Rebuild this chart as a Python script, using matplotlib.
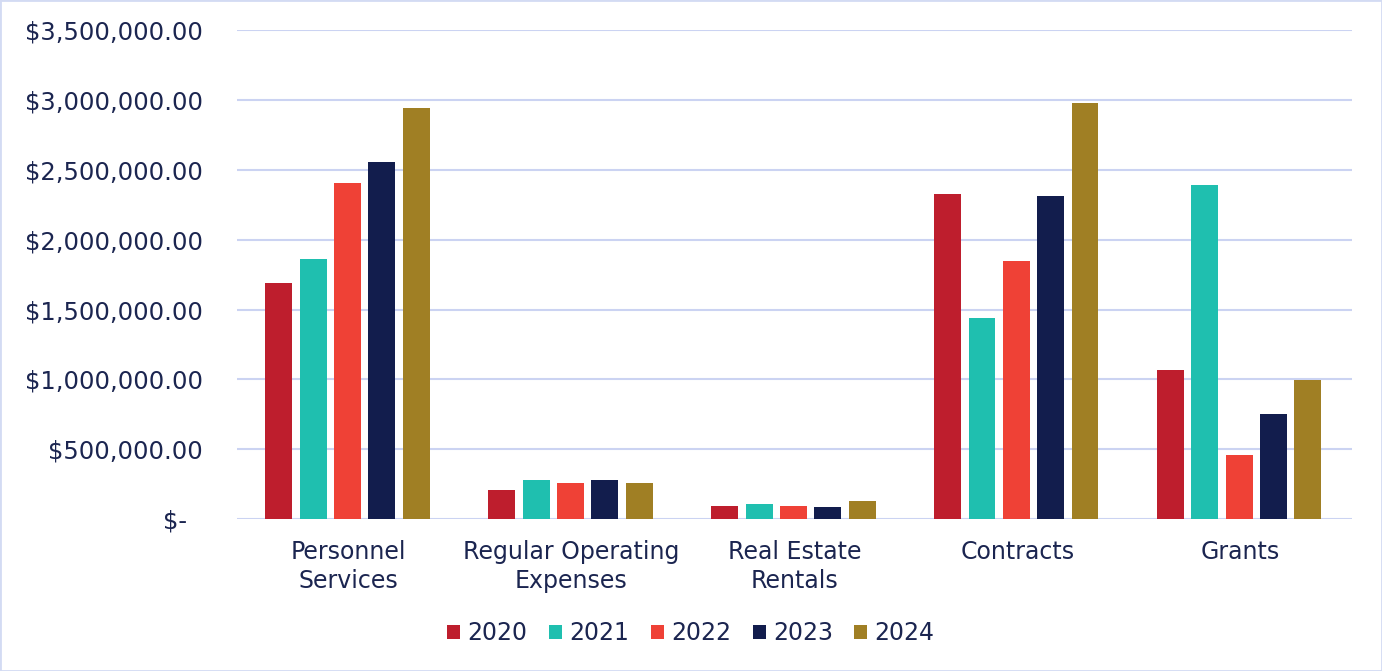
import matplotlib
matplotlib.use("Agg")
import matplotlib.pyplot as plt
import numpy as np
from matplotlib.patches import Rectangle

categories = ["Personnel\nServices", "Regular Operating\nExpenses", "Real Estate\nRentals", "Contracts", "Grants"]
years = ["2020", "2021", "2022", "2023", "2024"]
v2020 = [1689000, 207000, 93000, 2326000, 1066000]
v2021 = [1861000, 279000, 107000, 1439000, 2390000]
v2022 = [2405000, 258000, 93000, 1847000, 458000]
v2023 = [2555000, 279000, 86000, 2312000, 751000]
v2024 = [2942000, 258000, 129000, 2977000, 995000]
series = [v2020, v2021, v2022, v2023, v2024]
colors = ["#BE1E2D", "#1FBFAF", "#EF4136", "#121D4D", "#A07F24"]
text_color = "#1B2550"
grid_color = "#CBD3F2"

plt.rcParams['font.family'] = ['DejaVu Sans']

fig = plt.figure(figsize=(13.82, 6.71), dpi=100)
ax = fig.add_axes([0.1715, 0.2265, 0.978 - 0.1715, 0.955 - 0.2265])

x = np.arange(len(categories))
step = 0.154
width = 0.121
for i, (vals, c, y) in enumerate(zip(series, colors, years)):
    ax.bar(x + (i - 2) * step - 0.004, vals, width=width, color=c, label=y, zorder=3)

ax.set_xlim(-0.5, len(categories) - 0.5)
ax.set_ylim(0, 3500000)
yt = np.arange(0, 3500001, 500000)
ax.set_yticks(yt)
labels = ["$-  " if v == 0 else "${:,.2f}".format(v) for v in yt]
ax.set_yticklabels(labels)
ax.yaxis.grid(True, color=grid_color, linewidth=1.5, zorder=0)
ax.set_axisbelow(True)
for s in ax.spines.values():
    s.set_visible(False)
ax.tick_params(axis='y', length=0, pad=24.5, labelsize=17.5, labelcolor=text_color)
ax.set_xticks(x)
ax.set_xticklabels(categories, fontsize=17, color=text_color, linespacing=1.25)
ax.tick_params(axis='x', length=0, pad=15)

leg = fig.legend(loc='center', bbox_to_anchor=(0.5, 1 - 633 / 671), ncol=5, frameon=False,
                 fontsize=17, handlelength=0.55, handleheight=0.55, handletextpad=0.3,
                 columnspacing=0.92)
for t in leg.get_texts():
    t.set_color(text_color)

fig.patches.append(Rectangle((0, 0), 1, 1, transform=fig.transFigure, fill=False,
                             edgecolor="#D3DBF3", linewidth=2))

fig.savefig("out.png", dpi=100)
